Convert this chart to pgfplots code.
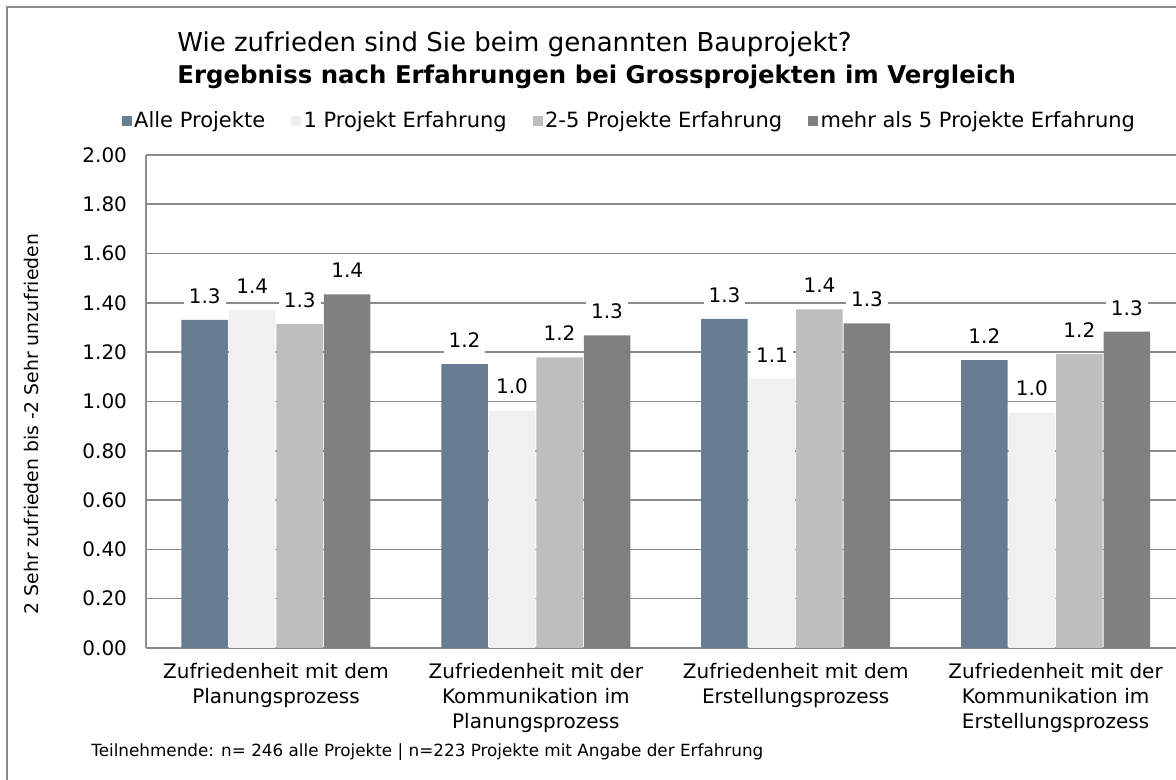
\documentclass[border=0pt]{standalone}
\usepackage{pgfplots}
\pgfplotsset{compat=1.18}
\usepackage{fontspec}
\setmainfont{DejaVu Sans}
\definecolor{cAlle}{HTML}{687D91}
\definecolor{cEins}{HTML}{F0F0F0}
\definecolor{cZwei}{HTML}{BEBEBE}
\definecolor{cMehr}{HTML}{808080}
\definecolor{gridc}{HTML}{8C8C8C}
\begin{document}
\begin{tikzpicture}
\useasboundingbox (0,0) rectangle (588bp,390bp);
\clip (0,0) rectangle (588bp,390bp);
\fill[white] (0,0) rectangle (588bp,390bp);
\draw[gridc, line width=1bp] (3.5bp,-20bp) -- (3.5bp,386.5bp) -- (620bp,386.5bp);
\node[anchor=west, font=\fontsize{13bp}{15bp}\selectfont, inner sep=0pt] at (88.5bp,368bp) {Wie zufrieden sind Sie beim genannten Bauprojekt?};
\node[anchor=west, font=\fontsize{12.2bp}{15bp}\selectfont\bfseries, inner sep=0pt] at (88.5bp,351.5bp) {Ergebniss nach Erfahrungen bei Grossprojekten im Vergleich};
\node[rotate=90, font=\fontsize{9.4bp}{11bp}\selectfont, inner sep=0pt] at (15.5bp,178bp) {2 Sehr zufrieden bis -2 Sehr unzufrieden};
\node[anchor=west, font=\fontsize{8.4bp}{10bp}\selectfont, inner sep=0pt] at (45.5bp,14bp) {Teilnehmende: n= 246 alle Projekte | n=223 Projekte mit Angabe der Erfahrung};
\begin{axis}[
  at={(73bp,66bp)}, anchor=south west,
  scale only axis, width=519.75bp, height=246.5bp,
  ybar=0.5bp, bar width=23.25bp,
  xmin=-0.5, xmax=3.5, ymin=0, ymax=2,
  ytick={0,0.2,0.4,0.6,0.8,1.0,1.2,1.4,1.6,1.8,2.0},
  xtick={0,1,2,3},
  xticklabels={{Zufriedenheit mit dem\\Planungsprozess},{Zufriedenheit mit der\\Kommunikation im\\Planungsprozess},{Zufriedenheit mit dem\\Erstellungsprozess},{Zufriedenheit mit der\\Kommunikation im\\Erstellungsprozess}},
  xticklabel style={align=center, font=\fontsize{10bp}{12.5bp}\selectfont, yshift=-4bp},
  yticklabel style={font=\fontsize{10bp}{12bp}\selectfont, xshift=-6bp},
  /pgf/number format/assume math mode=true,
  yticklabel={\pgfmathprintnumber[fixed,fixed zerofill,precision=2]{\tick}},
  major tick length=0pt,
  axis x line*=bottom, axis y line*=left,
  axis line style={gridc, line width=1bp},
  ymajorgrids, grid style={gridc, line width=0.8bp},
  nodes near coords={\pgfmathprintnumber[fixed,fixed zerofill,precision=1]{\pgfplotspointmeta}},
  every node near coord/.append style={font=\fontsize{10bp}{12bp}\selectfont, fill=white, inner sep=2.5bp, yshift=5.5bp},
  legend columns=4,
  legend style={at={(0.466,1.0)}, anchor=south, yshift=8bp, draw=none, fill=none, font=\fontsize{10.5bp}{12bp}\selectfont,
    /tikz/every even column/.append style={column sep=11bp},
    /tikz/every odd column/.append style={column sep=-0.8bp}},
  legend image code/.code={\path[#1,draw=none] (0bp,-2.6bp) rectangle (5bp,2.4bp);},
]
\addplot[fill=cAlle, draw=none] coordinates {(0,1.331) (1,1.152) (2,1.335) (3,1.168)};
\addplot[fill=cEins, draw=none] coordinates {(0,1.371) (1,0.963) (2,1.093) (3,0.955)};
\addplot[fill=cZwei, draw=none] coordinates {(0,1.314) (1,1.179) (2,1.374) (3,1.193)};
\addplot[fill=cMehr, draw=none] coordinates {(0,1.435) (1,1.268) (2,1.317) (3,1.283)};
\legend{Alle Projekte, 1 Projekt Erfahrung, 2-5 Projekte Erfahrung, mehr als 5 Projekte Erfahrung}
\end{axis}
\end{tikzpicture}
\end{document}
